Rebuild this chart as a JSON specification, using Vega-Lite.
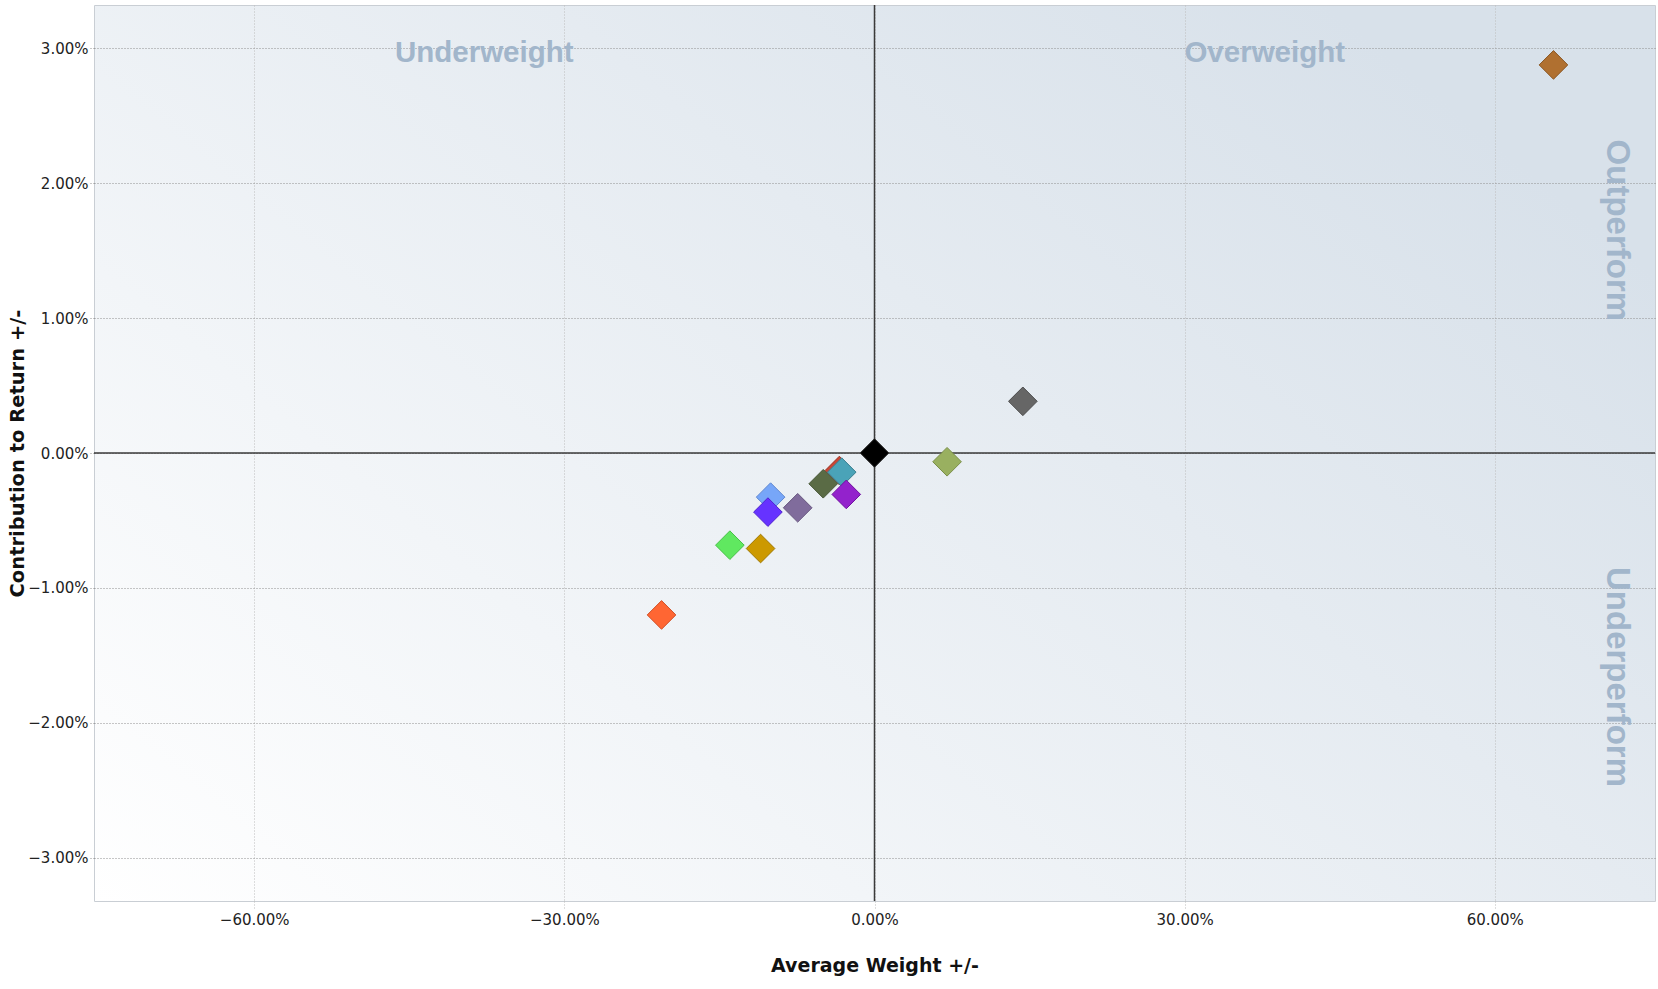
{
  "$schema": "https://vega.github.io/schema/vega-lite/v6.json",
  "width": 1561,
  "height": 896,
  "autosize": {"type": "none"},
  "padding": {"left": 94, "top": 5, "right": 3, "bottom": 88},
  "background": "white",
  "config": {
    "view": {
      "stroke": "#c9ced4",
      "strokeWidth": 1,
      "fill": {"gradient": "linear", "x1": 0, "y1": 1, "x2": 1, "y2": 0.3, "stops": [{"offset": 0, "color": "#ffffff"}, {"offset": 1, "color": "#d8e1ea"}]}
    },
    "axis": {
      "labelFont": "DejaVu Sans",
      "labelFontSize": 15,
      "labelColor": "#222222",
      "titleFont": "DejaVu Sans",
      "titleFontWeight": "bold",
      "titleColor": "#111111",
      "domain": false,
      "grid": true
    }
  },
  "layer": [
    {
      "data": {"values": [{"weight": 0}]},
      "mark": {"type": "rule", "color": "#3a3a3a", "strokeWidth": 1.5},
      "encoding": {
        "x": {"field": "weight", "type": "quantitative", "scale": {"domain": [-0.755, 0.755], "nice": false, "zero": false},
          "axis": {"values": [-0.6, -0.3, 0, 0.3, 0.6], "format": ".2%", "title": "Average Weight +/-", "gridColor": "#bdbdbd", "gridDash": [1, 2], "tickColor": "#bdbdbd", "tickDash": [1, 2], "tickSize": 9, "labelPadding": 2, "titleY": 64, "titleBaseline": "middle", "titleFontSize": 19}}
      }
    },
    {
      "data": {"values": [{"contribution": 0}]},
      "mark": {"type": "rule", "color": "#3a3a3a", "strokeWidth": 1.5},
      "encoding": {
        "y": {"field": "contribution", "type": "quantitative", "scale": {"domain": [-0.0332, 0.0332], "nice": false, "zero": false},
          "axis": {"values": [-0.03, -0.02, -0.01, 0, 0.01, 0.02, 0.03], "format": ".2%", "title": "Contribution to Return +/-", "gridColor": "#8f8f8f", "gridDash": [1, 2], "tickColor": "#8f8f8f", "tickDash": [1, 2], "tickSize": 5, "labelPadding": 1, "titleX": -77, "titleY": 448, "titleAngle": 270, "titleAlign": "center", "titleBaseline": "middle", "titleFontSize": 19.5}}
      }
    },
    {
      "data": {"values": [
        {"label": "Underweight", "weight": -0.3775, "contribution": 0.029},
        {"label": "Overweight", "weight": 0.3775, "contribution": 0.029}
      ]},
      "mark": {"type": "text", "font": "Liberation Sans", "fontWeight": "bold", "fontSize": 29.5, "color": "#a2b6cb", "align": "center", "baseline": "alphabetic"},
      "encoding": {
        "x": {"field": "weight", "type": "quantitative", "scale": {"domain": [-0.755, 0.755], "nice": false, "zero": false},
          "axis": {"values": [-0.6, -0.3, 0, 0.3, 0.6], "format": ".2%", "title": "Average Weight +/-", "gridColor": "#bdbdbd", "gridDash": [1, 2], "tickColor": "#bdbdbd", "tickDash": [1, 2], "tickSize": 9, "labelPadding": 2, "titleY": 64, "titleBaseline": "middle", "titleFontSize": 19}},
        "y": {"field": "contribution", "type": "quantitative", "scale": {"domain": [-0.0332, 0.0332], "nice": false, "zero": false},
          "axis": {"values": [-0.03, -0.02, -0.01, 0, 0.01, 0.02, 0.03], "format": ".2%", "title": "Contribution to Return +/-", "gridColor": "#8f8f8f", "gridDash": [1, 2], "tickColor": "#8f8f8f", "tickDash": [1, 2], "tickSize": 5, "labelPadding": 1, "titleX": -77, "titleY": 448, "titleAngle": 270, "titleAlign": "center", "titleBaseline": "middle", "titleFontSize": 19.5}},
        "text": {"field": "label"}
      }
    },
    {
      "data": {"values": [
        {"label": "Outperform", "weight": 0.718, "contribution": 0.0165},
        {"label": "Underperform", "weight": 0.718, "contribution": -0.0166}
      ]},
      "mark": {"type": "text", "font": "Liberation Sans", "fontWeight": "bold", "fontSize": 33, "color": "#a2b6cb", "align": "center", "baseline": "middle", "angle": 90},
      "encoding": {
        "x": {"field": "weight", "type": "quantitative", "scale": {"domain": [-0.755, 0.755], "nice": false, "zero": false},
          "axis": {"values": [-0.6, -0.3, 0, 0.3, 0.6], "format": ".2%", "title": "Average Weight +/-", "gridColor": "#bdbdbd", "gridDash": [1, 2], "tickColor": "#bdbdbd", "tickDash": [1, 2], "tickSize": 9, "labelPadding": 2, "titleY": 64, "titleBaseline": "middle", "titleFontSize": 19}},
        "y": {"field": "contribution", "type": "quantitative", "scale": {"domain": [-0.0332, 0.0332], "nice": false, "zero": false},
          "axis": {"values": [-0.03, -0.02, -0.01, 0, 0.01, 0.02, 0.03], "format": ".2%", "title": "Contribution to Return +/-", "gridColor": "#8f8f8f", "gridDash": [1, 2], "tickColor": "#8f8f8f", "tickDash": [1, 2], "tickSize": 5, "labelPadding": 1, "titleX": -77, "titleY": 448, "titleAngle": 270, "titleAlign": "center", "titleBaseline": "middle", "titleFontSize": 19.5}},
        "text": {"field": "label"}
      }
    },
    {
      "data": {"values": [
        {"name": "S1", "weight": -0.0340, "contribution": -0.00130},
        {"name": "S2", "weight": -0.0317, "contribution": -0.00142},
        {"name": "S3", "weight": -0.0496, "contribution": -0.00228},
        {"name": "S4", "weight": -0.0273, "contribution": -0.00307},
        {"name": "S5", "weight": -0.1005, "contribution": -0.00327},
        {"name": "S6", "weight": -0.1031, "contribution": -0.00438},
        {"name": "S7", "weight": -0.0743, "contribution": -0.00406},
        {"name": "S8", "weight": -0.1399, "contribution": -0.00683},
        {"name": "S9", "weight": -0.1102, "contribution": -0.00708},
        {"name": "S10", "weight": -0.2060, "contribution": -0.01200},
        {"name": "S11", "weight": 0.1435, "contribution": 0.00383},
        {"name": "S12", "weight": 0.0702, "contribution": -0.00065},
        {"name": "S13", "weight": 0.6568, "contribution": 0.02876},
        {"name": "S14", "weight": 0.0, "contribution": 0.0}
      ]},
      "mark": {"type": "point", "shape": "diamond", "filled": true, "size": 820, "strokeWidth": 1, "opacity": 1},
      "encoding": {
        "x": {"field": "weight", "type": "quantitative", "scale": {"domain": [-0.755, 0.755], "nice": false, "zero": false},
          "axis": {"values": [-0.6, -0.3, 0, 0.3, 0.6], "format": ".2%", "title": "Average Weight +/-", "gridColor": "#bdbdbd", "gridDash": [1, 2], "tickColor": "#bdbdbd", "tickDash": [1, 2], "tickSize": 9, "labelPadding": 2, "titleY": 64, "titleBaseline": "middle", "titleFontSize": 19}},
        "y": {"field": "contribution", "type": "quantitative", "scale": {"domain": [-0.0332, 0.0332], "nice": false, "zero": false},
          "axis": {"values": [-0.03, -0.02, -0.01, 0, 0.01, 0.02, 0.03], "format": ".2%", "title": "Contribution to Return +/-", "gridColor": "#8f8f8f", "gridDash": [1, 2], "tickColor": "#8f8f8f", "tickDash": [1, 2], "tickSize": 5, "labelPadding": 1, "titleX": -77, "titleY": 448, "titleAngle": 270, "titleAlign": "center", "titleBaseline": "middle", "titleFontSize": 19.5}},
        "fill": {"field": "name", "type": "nominal", "legend": null,
          "scale": {"domain": ["S1","S2","S3","S4","S5","S6","S7","S8","S9","S10","S11","S12","S13","S14"],
            "range": ["#cc4433","#4aa3b8","#5a6b45","#9322cc","#77a6f8","#6633ff","#806c9c","#60e860","#cc9900","#ff6633","#666666","#99b060","#b07030","#000000"]}},
        "stroke": {"field": "name", "type": "nominal", "legend": null,
          "scale": {"domain": ["S1","S2","S3","S4","S5","S6","S7","S8","S9","S10","S11","S12","S13","S14"],
            "range": ["#993322","#3a8090","#465535","#7010a0","#5f88d0","#5020d0","#66557f","#48c048","#a07800","#d04f25","#4d4d4d","#7a8f48","#8a5623","#333333"]}}
      }
    }
  ]
}
